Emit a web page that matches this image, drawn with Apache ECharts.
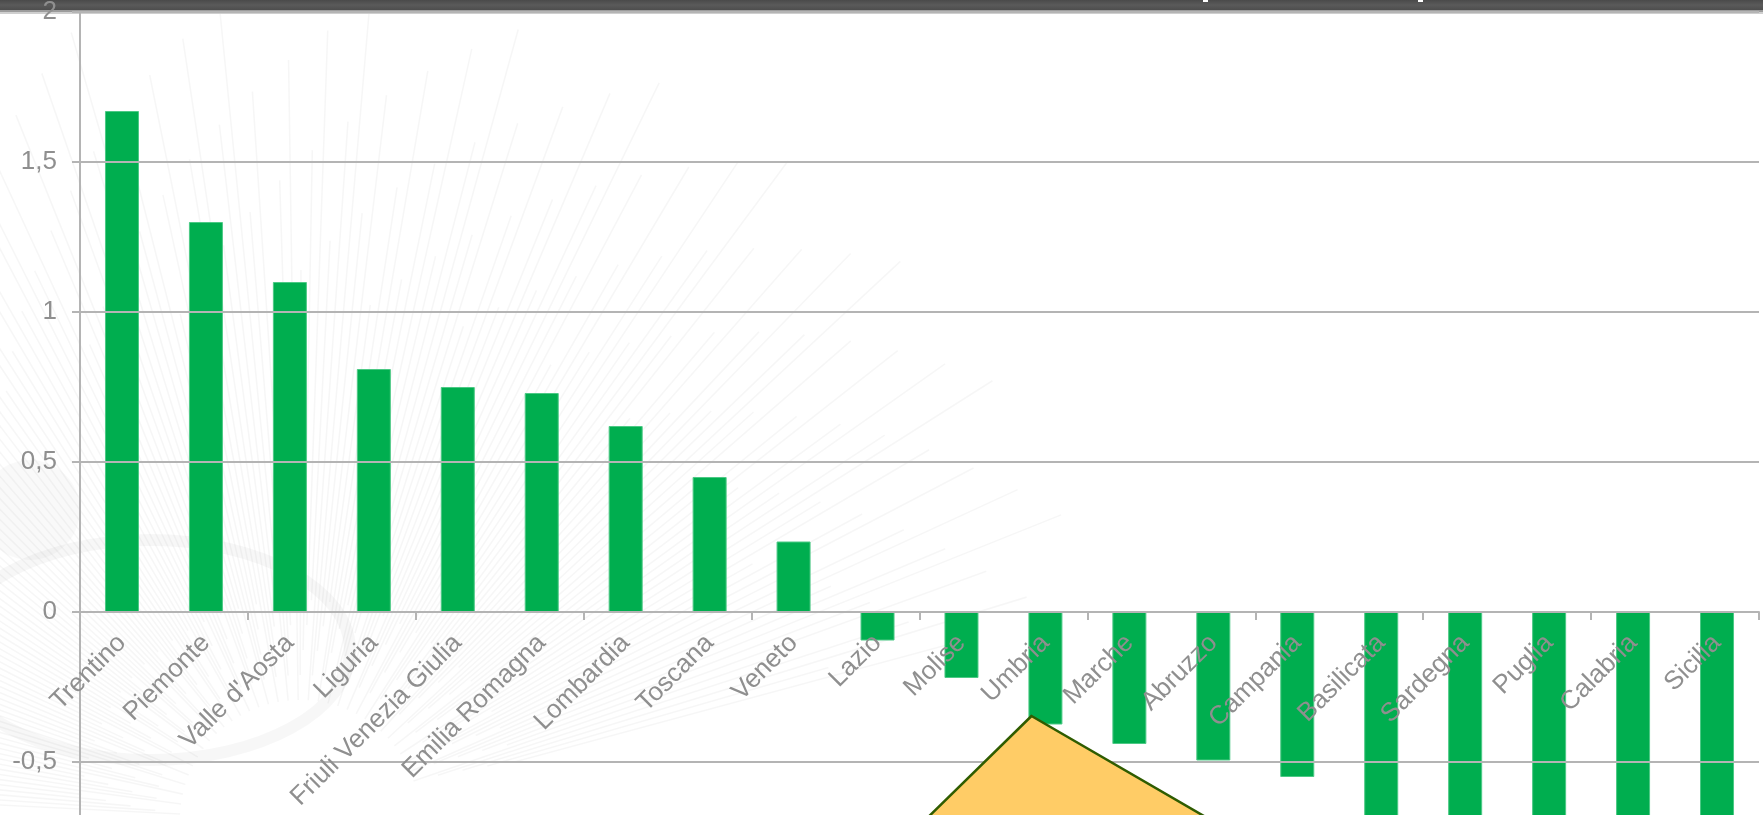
<!DOCTYPE html>
<html>
<head>
<meta charset="utf-8">
<style>
  html, body { margin: 0; padding: 0; background: #ffffff; }
  #chart { width: 1763px; height: 815px; }
</style>
<script src="https://cdn.jsdelivr.net/npm/echarts@6/dist/echarts.min.js"></script>
</head>
<body>
<div id="chart"></div>
<script>
// Regions, ordered from the highest to the lowest value
const regions = [
  'Trentino', 'Piemonte', "Valle d'Aosta", 'Liguria', 'Friuli Venezia Giulia',
  'Emilia Romagna', 'Lombardia', 'Toscana', 'Veneto', 'Lazio',
  'Molise', 'Umbria', 'Marche', 'Abruzzo', 'Campania',
  'Basilicata', 'Sardegna', 'Puglia', 'Calabria', 'Sicilia'
];
const values = [
  1.67, 1.30, 1.10, 0.81, 0.75,
  0.73, 0.62, 0.45, 0.235, -0.095,
  -0.22, -0.375, -0.44, -0.495, -0.55,
  -0.72, -0.80, -0.86, -0.93, -1.02
];
// Value axis range and step
const yMin = -1.5;
const yMax = 2;
const yStep = 0.5;

const GREY_TEXT = '#8f8f8f';
const GREY_LINE = '#b4b4b4';
const FONT = '"Liberation Sans", Arial, sans-serif';

const PX_PER_UNIT = 300;
const PLOT_LEFT = 80;
const PLOT_TOP = 12;
const PLOT_WIDTH = 1679;

// Faint radial strokes of the background decoration
function backgroundStrokes() {
  const out = [];
  const cx = 300, cy = 820;
  const count = 170;
  for (let i = 0; i < count; i++) {
    const a = Math.PI + (Math.PI * 0.9) * (i / (count - 1)) + 0.05;
    const r1 = 120 + (i % 5) * 25;
    const r2 = 520 + ((i * 37) % 11) * 30;
    out.push({
      type: 'line',
      z: -10,
      silent: true,
      shape: {
        x1: cx + r1 * Math.cos(a), y1: cy + r1 * Math.sin(a),
        x2: cx + r2 * Math.cos(a), y2: cy + r2 * Math.sin(a)
      },
      style: { stroke: 'rgba(0,0,0,0.035)', lineWidth: 1.6 }
    });
  }
  // soft eye-like ring on the left
  out.push({
    type: 'ellipse', z: -10, silent: true,
    shape: { cx: 150, cy: 650, rx: 200, ry: 110 },
    style: { fill: 'none', stroke: 'rgba(0,0,0,0.03)', lineWidth: 12 }
  });
  out.push({
    type: 'ellipse', z: -10, silent: true,
    shape: { cx: 30, cy: 510, rx: 50, ry: 50 },
    style: { fill: 'rgba(0,0,0,0.025)' }
  });
  return out;
}

const chart = echarts.init(document.getElementById('chart'), null, { renderer: 'canvas' });

const option = {
  backgroundColor: '#ffffff',
  animation: false,
  textStyle: { fontFamily: FONT },
  grid: [
    {
      // plot area, extends below the visible canvas
      left: PLOT_LEFT,
      top: PLOT_TOP,
      width: PLOT_WIDTH,
      height: (yMax - yMin) * PX_PER_UNIT,
      containLabel: false,
      outerBoundsMode: 'none'
    },
    {
      // positive half only: its bottom edge is the zero line, carrying the category labels
      left: PLOT_LEFT,
      top: PLOT_TOP,
      width: PLOT_WIDTH,
      height: yMax * PX_PER_UNIT,
      containLabel: false,
      outerBoundsMode: 'none'
    }
  ],
  xAxis: [
    {
      type: 'category',
      gridIndex: 0,
      data: regions,
      boundaryGap: true,
      axisLine: { onZero: true, lineStyle: { color: GREY_LINE, width: 2 } },
      axisTick: { show: true, alignWithLabel: false, length: 8, lineStyle: { color: GREY_LINE, width: 2 } },
      axisLabel: { show: false },
      splitLine: { show: false }
    },
    {
      type: 'category',
      gridIndex: 1,
      data: regions,
      boundaryGap: true,
      z: 15,
      axisLine: { show: false },
      axisTick: { show: false },
      axisLabel: {
        interval: 0,
        rotate: 45,
        margin: 27,
        color: GREY_TEXT,
        fontSize: 26,
        fontFamily: FONT
      },
      splitLine: { show: false }
    }
  ],
  yAxis: [
    {
      type: 'value',
      gridIndex: 0,
      min: yMin,
      max: yMax,
      interval: yStep,
      z: 10,
      axisLine: { show: true, lineStyle: { color: GREY_LINE, width: 2 } },
      axisTick: { show: true, length: 8, lineStyle: { color: GREY_LINE, width: 2 } },
      axisLabel: {
        margin: 23,
        color: GREY_TEXT,
        fontSize: 26,
        fontFamily: FONT,
        formatter: v => String(v).replace('.', ',')
      },
      splitLine: { show: true, lineStyle: { color: GREY_LINE, width: 2 } }
    },
    {
      type: 'value',
      gridIndex: 1,
      min: 0,
      max: yMax,
      show: false
    }
  ],
  series: [{
    type: 'bar',
    xAxisIndex: 0,
    yAxisIndex: 0,
    data: values,
    barWidth: 34,
    itemStyle: { color: '#00AE4F', borderColor: '#4cc985', borderWidth: 1 }
  }],
  graphic: {
    elements: [
      ...backgroundStrokes(),
      // dark header band across the top
      {
        type: 'rect', z: 5, silent: true,
        shape: { x: 0, y: 0, width: 1763, height: 10 },
        style: {
          fill: new echarts.graphic.LinearGradient(0, 0, 0, 1, [
            { offset: 0, color: '#4a4a4a' },
            { offset: 0.5, color: '#5a5a5a' },
            { offset: 1, color: '#4e4e4e' }
          ])
        }
      },
      { type: 'rect', z: 5, silent: true, shape: { x: 0, y: 10, width: 1763, height: 2 }, style: { fill: '#9c9c9c' } },
      { type: 'rect', z: 5, silent: true, shape: { x: 0, y: 12, width: 1763, height: 2 }, style: { fill: '#cfcfcf' } },
      { type: 'rect', z: 6, silent: true, shape: { x: 1203, y: 0, width: 5, height: 2 }, style: { fill: '#ffffff' } },
      { type: 'rect', z: 6, silent: true, shape: { x: 1418, y: 0, width: 5, height: 2 }, style: { fill: '#ffffff' } },
      // callout pointer
      {
        type: 'polygon', z: 20, silent: true,
        shape: { points: [[1031.5, 716], [915, 830], [1228, 830]] },
        style: { fill: '#FFCC66', stroke: '#2f5c00', lineWidth: 2.5, lineJoin: 'miter' }
      }
    ]
  }
};

chart.setOption(option);
</script>
</body>
</html>
